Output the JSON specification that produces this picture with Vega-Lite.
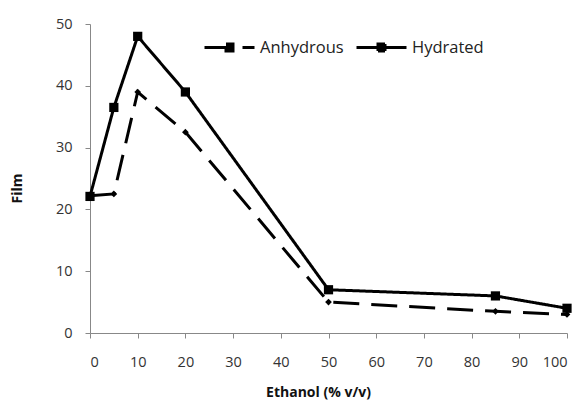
{
  "$schema": "https://vega.github.io/schema/vega-lite/v6.json",
  "width": 477,
  "height": 309,
  "autosize": {"type": "none"},
  "padding": {"left": 90, "top": 24, "right": 13, "bottom": 70},
  "background": "white",
  "config": {
    "view": {"stroke": null},
    "font": "Open Sans",
    "axis": {"grid": false, "domainColor": "#888888", "tickColor": "#888888", "labelColor": "#333333", "labelFont": "Open Sans", "labelFontSize": 14.5, "titleFont": "Open Sans", "titleFontWeight": "bold", "titleFontSize": 14, "titleColor": "#111111"},
    "legend": {"orient": "none", "legendX": 113, "legendY": -3, "direction": "horizontal", "labelFontSize": 16.5, "labelFont": "Open Sans", "labelColor": "#222222", "labelOffset": 4, "columnPadding": 6,
      "symbolType": "M-1,0H1M-0.14,-0.14H0.14V0.14H-0.14Z", "symbolSize": 2500, "symbolStrokeWidth": 3, "symbolStrokeColor": "black", "symbolFillColor": "black"}
  },
  "data": {"values": [
    {"ethanol": 0, "film": 22.2, "series": "Anhydrous"},
    {"ethanol": 5, "film": 22.5, "series": "Anhydrous"},
    {"ethanol": 10, "film": 39, "series": "Anhydrous"},
    {"ethanol": 20, "film": 32.5, "series": "Anhydrous"},
    {"ethanol": 50, "film": 5, "series": "Anhydrous"},
    {"ethanol": 85, "film": 3.5, "series": "Anhydrous"},
    {"ethanol": 100, "film": 3, "series": "Anhydrous"},
    {"ethanol": 0, "film": 22.1, "series": "Hydrated"},
    {"ethanol": 5, "film": 36.5, "series": "Hydrated"},
    {"ethanol": 10, "film": 48, "series": "Hydrated"},
    {"ethanol": 20, "film": 39, "series": "Hydrated"},
    {"ethanol": 50, "film": 7, "series": "Hydrated"},
    {"ethanol": 85, "film": 6, "series": "Hydrated"},
    {"ethanol": 100, "film": 4, "series": "Hydrated"}
  ]},
  "encoding": {
    "x": {"field": "ethanol", "type": "quantitative", "scale": {"domain": [0, 100], "nice": false},
      "axis": {"title": "Ethanol (% v/v)", "values": [0,10,20,30,40,50,60,70,80,90,100], "tickSize": 5, "labelPadding": 17, "titlePadding": 17, "titleX": 228}},
    "y": {"field": "film", "type": "quantitative", "scale": {"domain": [0, 50], "nice": false},
      "axis": {"title": "Film", "values": [0,10,20,30,40,50], "tickSize": 5, "labelPadding": 13, "titlePadding": 31, "titleY": 164}}
  },
  "layer": [
    {
      "mark": {"type": "line", "color": "black", "strokeWidth": 3},
      "encoding": {
        "strokeDash": {"field": "series", "type": "nominal", "title": null, "scale": {"domain": ["Anhydrous", "Hydrated"], "range": [[26, 12], [1, 0]]},
          "legend": {"symbolType": "M-1,0H1M-0.14,-0.14H0.14V0.14H-0.14Z", "symbolSize": 2500, "symbolStrokeWidth": 3, "symbolStrokeColor": "black", "symbolFillColor": "black"}}
      }
    },
    {
      "transform": [{"filter": "datum.series === 'Anhydrous'"}],
      "mark": {"type": "point", "filled": true, "color": "black", "opacity": 1, "shape": "diamond", "size": 45}
    },
    {
      "transform": [{"filter": "datum.series === 'Hydrated'"}],
      "mark": {"type": "point", "filled": true, "color": "black", "opacity": 1, "shape": "square", "size": 85}
    }
  ]
}
